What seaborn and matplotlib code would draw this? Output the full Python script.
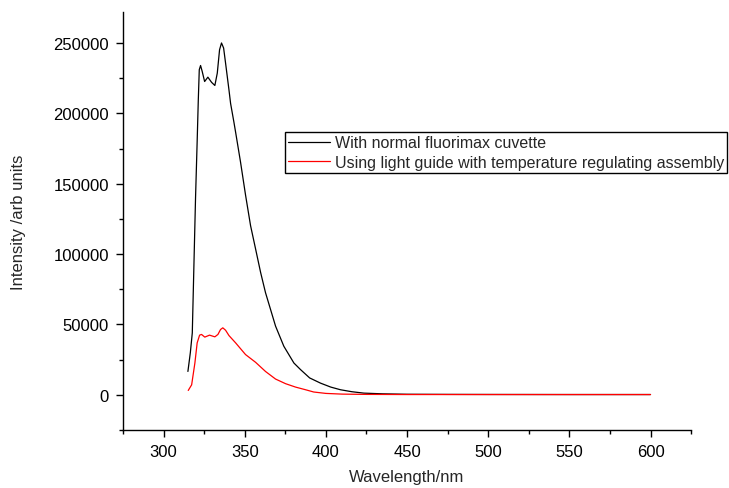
import numpy as np
import pandas as pd
import matplotlib
matplotlib.use("Agg")
import matplotlib.pyplot as plt
from matplotlib.ticker import MultipleLocator
import seaborn as sns

# Spectre d'émission
wl_cuvette = [315.0, 316.5, 317.7, 318.7, 319.7, 320.7, 321.4, 322.0, 322.8, 323.8,
              325.3, 327.3, 329.6, 331.6, 333.1, 334.5, 335.7, 337.0, 338.2, 340.3,
              341.3, 343.3, 344.4, 346.4, 347.4, 350.5, 353.6, 356.7, 359.8, 362.8,
              365.9, 369.0, 374.1, 380.3, 384.4, 390.0, 396.7, 403.0, 409.0, 416.0,
              423.4, 435.0, 450.0, 475.0, 500.0, 550.0, 600.0]
int_cuvette = [16600, 30000, 44000, 92000, 140000, 180000, 209500, 231000, 234000, 229800,
               222600, 225700, 222000, 219800, 228600, 245200, 250000, 246400, 235700, 216600,
               207000, 194000, 186500, 172500, 165500, 142000, 120200, 103600, 86900, 72600,
               60700, 48800, 34500, 22600, 17900, 12000, 8300, 5500, 3600, 2200,
               1200, 700, 400, 300, 250, 200, 200]

wl_guide = [315.2, 317.3, 319.3, 320.7, 322.2, 323.4, 325.4, 328.3, 331.6, 333.5,
            335.1, 336.5, 338.2, 340.3, 344.4, 350.5, 356.7, 362.8, 369.0, 375.2,
            381.3, 387.5, 392.5, 400.0, 410.0, 425.0, 450.0, 500.0, 550.0, 600.0]
int_guide = [3100, 7100, 22600, 36900, 42400, 42900, 41000, 42400, 41200, 42900,
             46400, 47600, 45900, 42100, 36900, 28600, 23100, 16600, 11200, 7900,
             5500, 3600, 2000, 1000, 500, 300, 200, 200, 200, 200]

labels = ["With normal fluorimax cuvette",
          "Using light guide with temperature regulating assembly"]

df_cuv = pd.DataFrame({"wl": wl_cuvette, "I": int_cuvette})
df_guide = pd.DataFrame({"wl": wl_guide, "I": int_guide})

sns.set_style("ticks")
plt.rcParams['font.family'] = ['Liberation Sans', 'DejaVu Sans']
plt.rcParams['font.size'] = 12

fig = plt.figure(figsize=(7.29, 4.89), dpi=100)
ax = fig.add_axes([0.1687, 0.1186, 0.948 - 0.1687, 0.9734 - 0.1186])

sns.lineplot(data=df_cuv, x="wl", y="I", color="black", lw=0.9, ax=ax, label=labels[0])
sns.lineplot(data=df_guide, x="wl", y="I", color="red", lw=0.9, ax=ax, label=labels[1])

ax.set_xlim(275, 625)
ax.set_ylim(-25000, 272000)
ax.xaxis.set_major_locator(MultipleLocator(50))
ax.xaxis.set_minor_locator(MultipleLocator(25))
ax.yaxis.set_major_locator(MultipleLocator(50000))
ax.yaxis.set_minor_locator(MultipleLocator(25000))
ax.tick_params(which="major", direction="out", length=5, width=1, colors="black",
               labelsize=12, pad=5)
ax.tick_params(which="minor", direction="out", length=3, width=1, colors="black")
ax.set_xticks([300, 350, 400, 450, 500, 550, 600])

for s in ["top", "right"]:
    ax.spines[s].set_visible(False)
for s in ["left", "bottom"]:
    ax.spines[s].set_color("black")
    ax.spines[s].set_linewidth(1)

ax.set_xlabel("Wavelength/nm", fontsize=12, labelpad=7)
ax.set_ylabel("Intensity /arb units", fontsize=12, labelpad=20)

leg = ax.legend(loc="upper left", bbox_to_anchor=(285 / 729, 1 - 133 / 489),
                bbox_transform=fig.transFigure, borderaxespad=0, fancybox=False,
                edgecolor="black", framealpha=1, handlelength=2.6, handletextpad=0.3,
                borderpad=0.2, labelspacing=0.3, fontsize=11.5)
leg.get_frame().set_linewidth(1)

fig.savefig("out.png", dpi=100)
